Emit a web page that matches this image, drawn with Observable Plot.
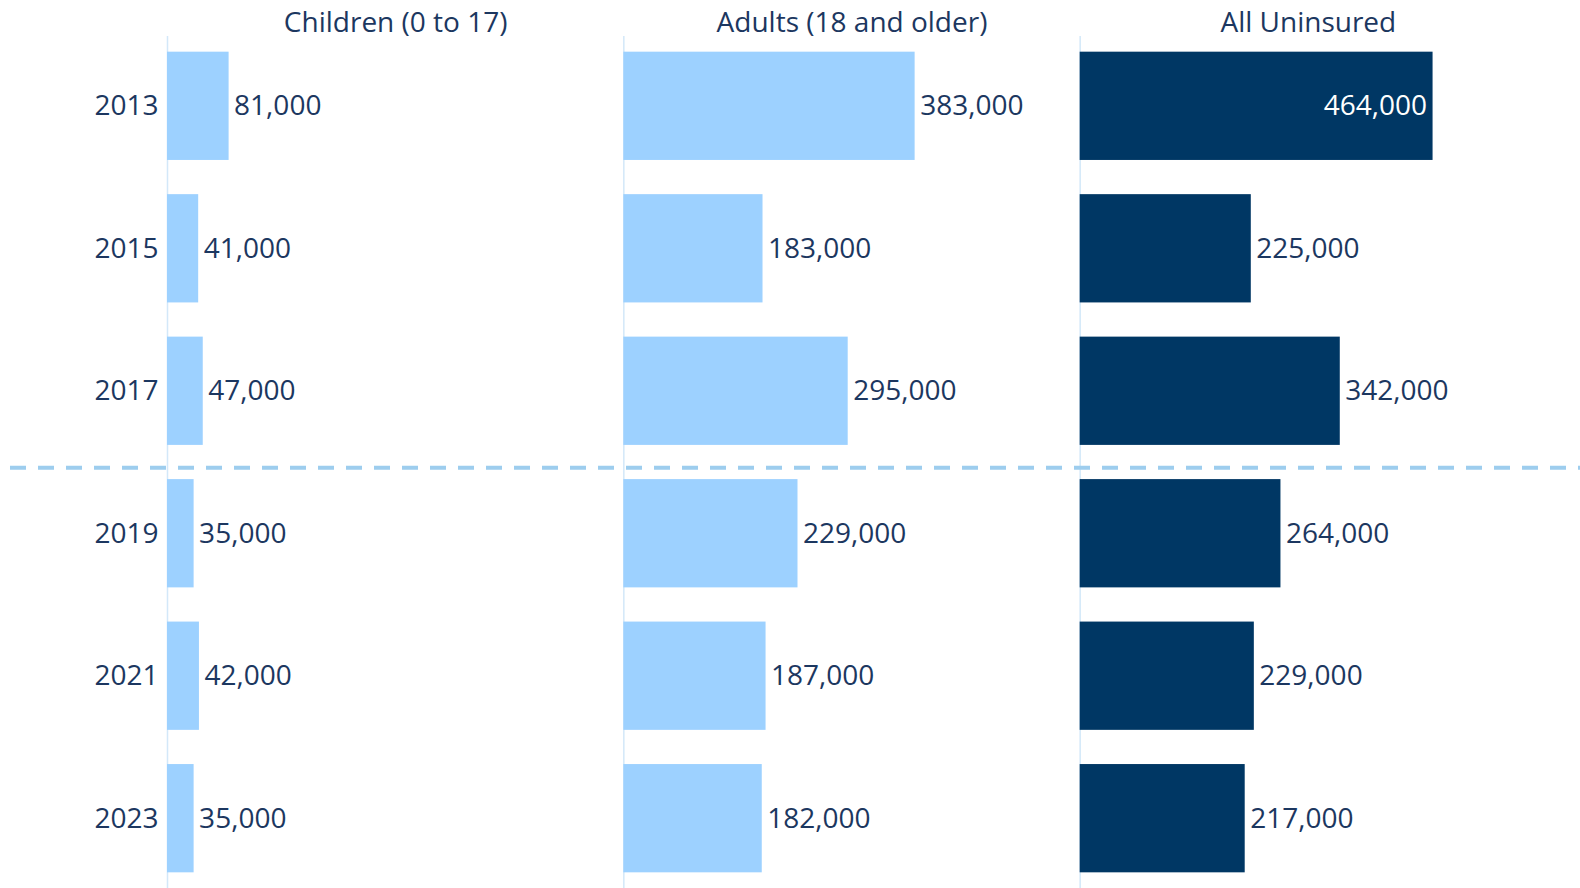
<!DOCTYPE html>
<html>
<head>
<meta charset="utf-8">
<script src="https://cdn.jsdelivr.net/npm/d3@7"></script>
<script src="https://cdn.jsdelivr.net/npm/@observablehq/plot@0.6"></script>
<style>
  body { margin: 0; background: #fff; }
  #chart svg { display: block; }
</style>
</head>
<body>
<div id="chart"></div>
<script>
// ---- data ----
const years = ["2013", "2015", "2017", "2019", "2021", "2023"];
const groups = ["Children (0 to 17)", "Adults (18 and older)", "All Uninsured"];
const children = [81000, 41000, 47000, 35000, 42000, 35000];
const adults = [383000, 183000, 295000, 229000, 187000, 182000];
const allUninsured = [464000, 225000, 342000, 264000, 229000, 217000];
const breakBefore = "2019"; // dashed separator sits above this year

// ---- table built from the arrays ----
const seriesValues = [children, adults, allUninsured];
const data = groups.flatMap((g, i) => years.map((y, j) => ({ group: g, year: y, value: seriesValues[i][j] })));
const maxValue = d3.max(data, d => d.value);
const inside = d => d.value === maxValue;

const fmt = d3.format(",");
const navy = "#1c3760";
const light = "#9dd1ff";
const dark = "#003764";
const font = "'Open Sans', sans-serif";
const fs = 28;

const chart = Plot.plot({
  width: 1580,
  height: 888,
  marginTop: 36,
  marginBottom: 0,
  marginLeft: 167,
  marginRight: 44,
  style: { fontFamily: font, fontSize: fs + "px", color: navy, background: "#fff" },
  fx: { domain: groups, padding: 0, axis: "top", label: null, tickSize: 0, tickPadding: 5, round: false },
  y: { domain: years, paddingInner: 0.24, paddingOuter: 0.11, label: null, tickSize: 0, tickPadding: 9, round: false },
  x: { domain: [0, 600000], axis: null },
  color: { domain: groups, range: [light, light, dark] },
  marks: [
    Plot.ruleX([0], { stroke: "#d3e8f9", strokeWidth: 1.5 }),
    Plot.barX(data, { fx: "group", y: "year", x: "value", fill: "group" }),
    Plot.ruleY([{ group: groups[0], year: breakBefore }], {
      fx: "group", y: "year", dy: -66,
      stroke: "#9dcdee", strokeWidth: 4, strokeDasharray: "16,12",
      insetLeft: -157, insetRight: -958
    }),
    Plot.text(data.filter(d => !inside(d)), {
      fx: "group", y: "year", x: "value", text: d => fmt(d.value),
      textAnchor: "start", dx: 5, fill: navy, fontSize: fs, fontFamily: font
    }),
    Plot.text(data.filter(inside), {
      fx: "group", y: "year", x: "value", text: d => fmt(d.value),
      textAnchor: "end", dx: -6, fill: "white", fontSize: fs, fontFamily: font
    })
  ]
});
document.getElementById("chart").append(chart);
</script>
</body>
</html>
